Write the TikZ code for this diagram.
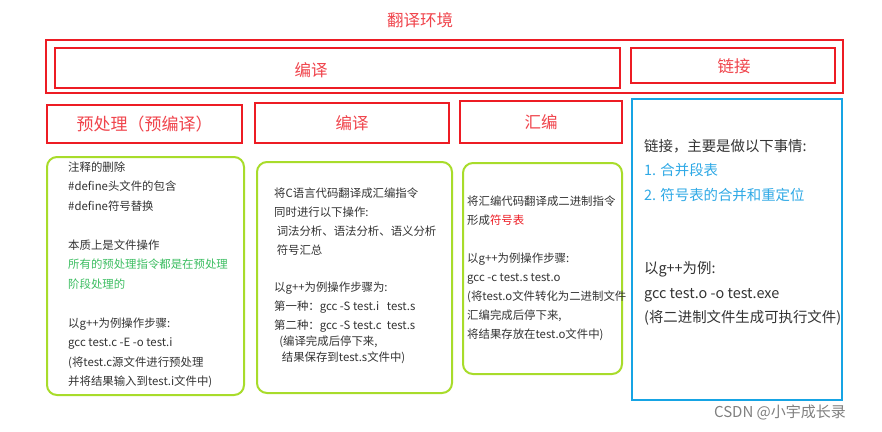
\documentclass[tikz,border=0pt]{standalone}
\usepackage{fontspec}
\setmainfont{Noto Sans CJK SC}
\usepackage{tikz}
\usepackage{xcolor}

\definecolor{boxred}{HTML}{ED1C24}
\definecolor{headred}{HTML}{F0444C}
\definecolor{boxgreen}{HTML}{A8DC2A}
\definecolor{boxblue}{HTML}{16A4E4}
\definecolor{txtgreen}{HTML}{3DBE62}
\definecolor{txtblue}{HTML}{2EA9E6}
\definecolor{txtgray}{HTML}{333333}

\begin{document}
\begin{tikzpicture}[x=1pt, y=-1pt]

\tikzstyle{every node} = [inner sep=0pt]
\tikzstyle{redbox} = [rectangle, draw=boxred, line width=2pt]
\tikzstyle{greenbox} = [rectangle, draw=boxgreen, line width=2pt, rounded corners=10pt]
\tikzstyle{bluebox} = [rectangle, draw=boxblue, line width=2.5pt]
\tikzstyle{head} = [text=headred, font=\fontsize{16.5}{16.5}\selectfont]
\tikzstyle{note} = [align=left, anchor=north west, text=txtgray, font=\fontsize{11.4}{19.5}\selectfont]

\useasboundingbox[fill=white] (0,0) rectangle (882,431);

\node[head] (t) at (420,20) {翻译环境};

\node[redbox, minimum width=797pt, minimum height=53pt] (env) at (444.5,66.5) {};
\node[redbox, minimum width=565pt, minimum height=40pt] (cb) at (337.5,68) {};
\node[head] (ct) at (311,70) {编译};
\node[redbox, minimum width=204pt, minimum height=35pt] (lb) at (733,65.5) {};
\node[head] (lt) at (734,66) {链接};

\node[redbox, head, font=\fontsize{17}{17}\selectfont, minimum width=195pt, minimum height=38pt] (pre) at (144.5,124) {预处理（预编译）};
\node[redbox, head, minimum width=194pt, minimum height=40pt] (com) at (352,123) {编译};
\node[redbox, head, minimum width=162pt, minimum height=42pt] (asm) at (541,122) {汇编};

\node[greenbox, minimum width=197pt, minimum height=238pt] (g1) at (145.5,276) {};
\node[greenbox, minimum width=195pt, minimum height=231pt] (g2) at (354.5,277.5) {};
\node[greenbox, minimum width=159pt, minimum height=211pt] (g3) at (542.5,268.5) {};
\node[bluebox, minimum width=210pt, minimum height=301pt] (lk) at (737,249.5) {};

\node[note] (n1) at (68,161.5) {注释的删除\\
\#define头文件的包含\\
\#define符号替换\\
\mbox{}\\
本质上是文件操作\\
\textcolor{txtgreen}{所有的预处理指令都是在预处理}\\
\textcolor{txtgreen}{阶段处理的}\\
\mbox{}\\
以g++为例操作步骤:\\
gcc test.c -E -o test.i\\
(将test.c源文件进行预处理\\
并将结果输入到test.i文件中)};

\node[note, font=\fontsize{11.4}{18.8}\selectfont] (n2) at (274,188) {将C语言代码翻译成汇编指令\\
同时进行以下操作:\\
\ 词法分析、语法分析、语义分析\\
\ 符号汇总\\
\mbox{}\\
以g++为例操作步骤为:\\
第一种：gcc -S test.i \ \ test.s\\
第二种：gcc -S test.c \ test.s\\[-3pt]
\ \ (编译完成后停下来,\\[-3pt]
\ \ \ 结果保存到test.s文件中)};

\node[note, font=\fontsize{11.4}{19}\selectfont] (n3) at (467,196) {将汇编代码翻译成二进制指令\\
形成\textcolor{boxred}{符号表}\\
\mbox{}\\
以g++为例操作步骤:\\
gcc -c test.s test.o\\
(将test.o文件转化为二进制文件\\
汇编完成后停下来,\\
将结果存放在test.o文件中)};

\node[note, font=\fontsize{14.4}{24.5}\selectfont] (n4) at (644,139) {链接，主要是做以下事情:\\
\textcolor{txtblue}{1. 合并段表}\\
\textcolor{txtblue}{2. 符号表的合并和重定位}\\
\mbox{}\\
\mbox{}\\
以g++为例:\\
gcc test.o -o test.exe\\
(将二进制文件生成可执行文件)};

\node[text=gray, font=\fontsize{15}{15}\selectfont] (wm) at (780,412) {CSDN @小宇成长录};

\end{tikzpicture}
\end{document}
